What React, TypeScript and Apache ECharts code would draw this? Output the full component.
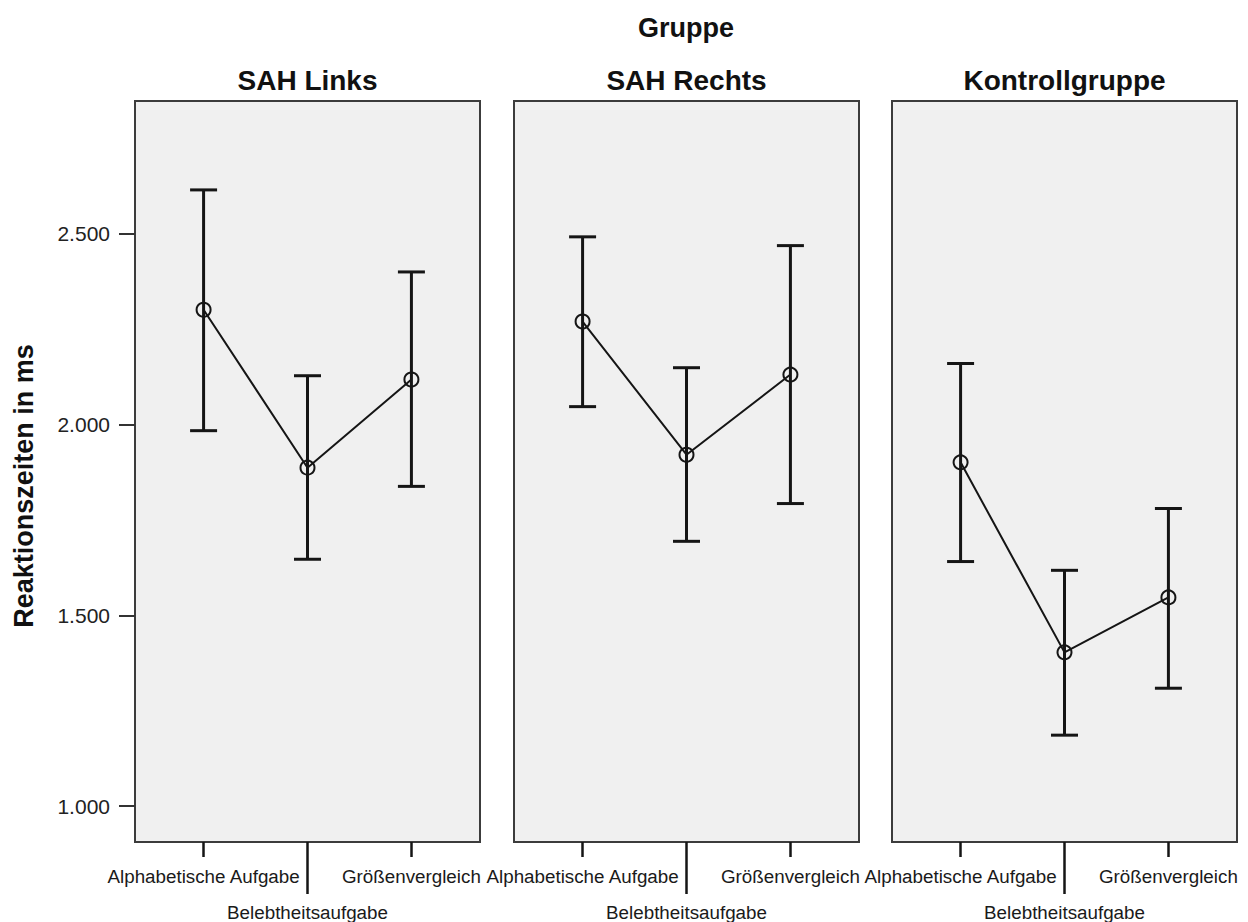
import React, { useEffect, useRef } from "react";
import * as echarts from "echarts";

const groups = ["SAH Links", "SAH Rechts", "Kontrollgruppe"];
const tasks = ["Alphabetische Aufgabe", "Belebtheitsaufgabe", "Größenvergleich"];
const yTicks = [1000, 1500, 2000, 2500];

// means per group (task order as in `tasks`)
const meanLinks = [2301, 1887, 2118];
const meanRechts = [2270, 1921, 2131];
const meanKontroll = [1901, 1403, 1547];
// lower / upper error bar ends
const lowLinks = [1984, 1647, 1838];
const highLinks = [2615, 2128, 2400];
const lowRechts = [2047, 1694, 1793];
const highRechts = [2492, 2149, 2469];
const lowKontroll = [1641, 1186, 1309];
const highKontroll = [2160, 1618, 1780];

const means = [meanLinks, meanRechts, meanKontroll];
const lows = [lowLinks, lowRechts, lowKontroll];
const highs = [highLinks, highRechts, highKontroll];

const Y_MIN = 906;
const Y_MAX = 2848;
const X_MIN = -0.66;
const X_MAX = 2.66;

const panelLefts = [135, 514, 892];
const panelWidth = 345;
const TOP = 101;
const HEIGHT = 742;
const INK = "#151515";
const LABEL_FONT = "'Liberation Sans', Arial, sans-serif";

export default function App() {
  const ref = useRef<HTMLDivElement>(null);

  useEffect(() => {
    if (!ref.current) return;
    const chart = echarts.init(ref.current, undefined, { renderer: "svg" });

    const grid: any[] = [];
    const xAxis: any[] = [];
    const yAxis: any[] = [];
    const series: any[] = [];
    const graphic: any[] = [];

    groups.forEach((g, i) => {
      grid.push({
        left: panelLefts[i],
        top: TOP,
        width: panelWidth,
        height: HEIGHT,
        show: true,
        backgroundColor: "#f0f0f0",
        borderColor: "#3c3c3c",
        borderWidth: 2,
      });
      // short ticks: first and third categories
      xAxis.push({
        type: "value",
        gridIndex: i,
        position: "bottom",
        min: X_MIN,
        max: X_MAX,
        axisLine: { show: false, onZero: false },
        splitLine: { show: false },
        axisTick: {
          show: true,
          customValues: [0, 2],
          length: 15,
          lineStyle: { color: INK, width: 2.5 },
        },
        axisLabel: {
          show: true,
          customValues: [0, 2],
          margin: 25,
          fontSize: 18.8,
          fontFamily: LABEL_FONT,
          color: "#1a1a1a",
          formatter: (v: number) => tasks[Math.round(v)],
        },
      });
      // long tick: middle category
      xAxis.push({
        type: "value",
        gridIndex: i,
        position: "bottom",
        min: X_MIN,
        max: X_MAX,
        axisLine: { show: false, onZero: false },
        splitLine: { show: false },
        axisTick: {
          show: true,
          customValues: [1],
          length: 52,
          lineStyle: { color: INK, width: 2.5 },
        },
        axisLabel: {
          show: true,
          customValues: [1],
          margin: 61,
          fontSize: 18.8,
          fontFamily: LABEL_FONT,
          color: "#1a1a1a",
          formatter: (v: number) => tasks[Math.round(v)],
        },
      });
      yAxis.push({
        type: "value",
        gridIndex: i,
        position: "left",
        min: Y_MIN,
        max: Y_MAX,
        axisLine: { show: false, onZero: false },
        splitLine: { show: false },
        axisTick: {
          show: i === 0,
          customValues: yTicks,
          length: 16,
          lineStyle: { color: "#333", width: 2 },
        },
        axisLabel: {
          show: i === 0,
          customValues: yTicks,
          margin: 25,
          fontSize: 21,
          fontFamily: LABEL_FONT,
          color: "#222",
          formatter: (v: number) => {
            const s = String(Math.round(v));
            return s.length > 3 ? s.slice(0, s.length - 3) + "." + s.slice(-3) : s;
          },
        },
      });

      const barData = tasks.map((_, k) => [k, lows[i][k], highs[i][k]]);
      series.push({
        type: "custom",
        xAxisIndex: i * 2,
        yAxisIndex: i,
        data: barData,
        renderItem: (params: any, api: any) => {
          const x = api.value(0);
          const lo = api.coord([x, api.value(1)]);
          const hi = api.coord([x, api.value(2)]);
          const hw = 13.5;
          const style = { stroke: INK, lineWidth: 3 };
          return {
            type: "group",
            children: [
              { type: "line", shape: { x1: lo[0], y1: lo[1], x2: hi[0], y2: hi[1] }, style },
              { type: "line", shape: { x1: hi[0] - hw, y1: hi[1], x2: hi[0] + hw, y2: hi[1] }, style },
              { type: "line", shape: { x1: lo[0] - hw, y1: lo[1], x2: lo[0] + hw, y2: lo[1] }, style },
            ],
          };
        },
        z: 2,
      });
      series.push({
        type: "line",
        xAxisIndex: i * 2,
        yAxisIndex: i,
        data: means[i].map((m, k) => [k, m]),
        symbol: "circle",
        symbolSize: 14,
        lineStyle: { color: INK, width: 2 },
        itemStyle: { color: "rgba(0,0,0,0)", borderColor: INK, borderWidth: 2 },
        z: 3,
      });

      graphic.push({
        type: "text",
        x: panelLefts[i] + panelWidth / 2,
        y: 80,
        style: {
          text: g,
          fontSize: 28,
          fontWeight: "bold",
          fontFamily: LABEL_FONT,
          fill: "#111",
          textAlign: "center",
          textVerticalAlign: "middle",
        },
      });
    });

    graphic.push({
      type: "text",
      x: 686,
      y: 28,
      style: {
        text: "Gruppe",
        fontSize: 27,
        fontWeight: "bold",
        fontFamily: LABEL_FONT,
        fill: "#111",
        textAlign: "center",
        textVerticalAlign: "middle",
      },
    });
    graphic.push({
      type: "text",
      x: 24,
      y: 486,
      rotation: Math.PI / 2,
      style: {
        text: "Reaktionszeiten in ms",
        fontSize: 27,
        fontWeight: "bold",
        fontFamily: LABEL_FONT,
        fill: "#111",
        textAlign: "center",
        textVerticalAlign: "middle",
      },
    });

    chart.setOption({
      animation: false,
      backgroundColor: "#ffffff",
      grid,
      xAxis,
      yAxis,
      series,
      graphic,
    });

    return () => chart.dispose();
  }, []);

  return (
    <div
      ref={ref}
      style={{ position: "fixed", left: 0, top: 0, width: 1248, height: 922 }}
    />
  );
}
